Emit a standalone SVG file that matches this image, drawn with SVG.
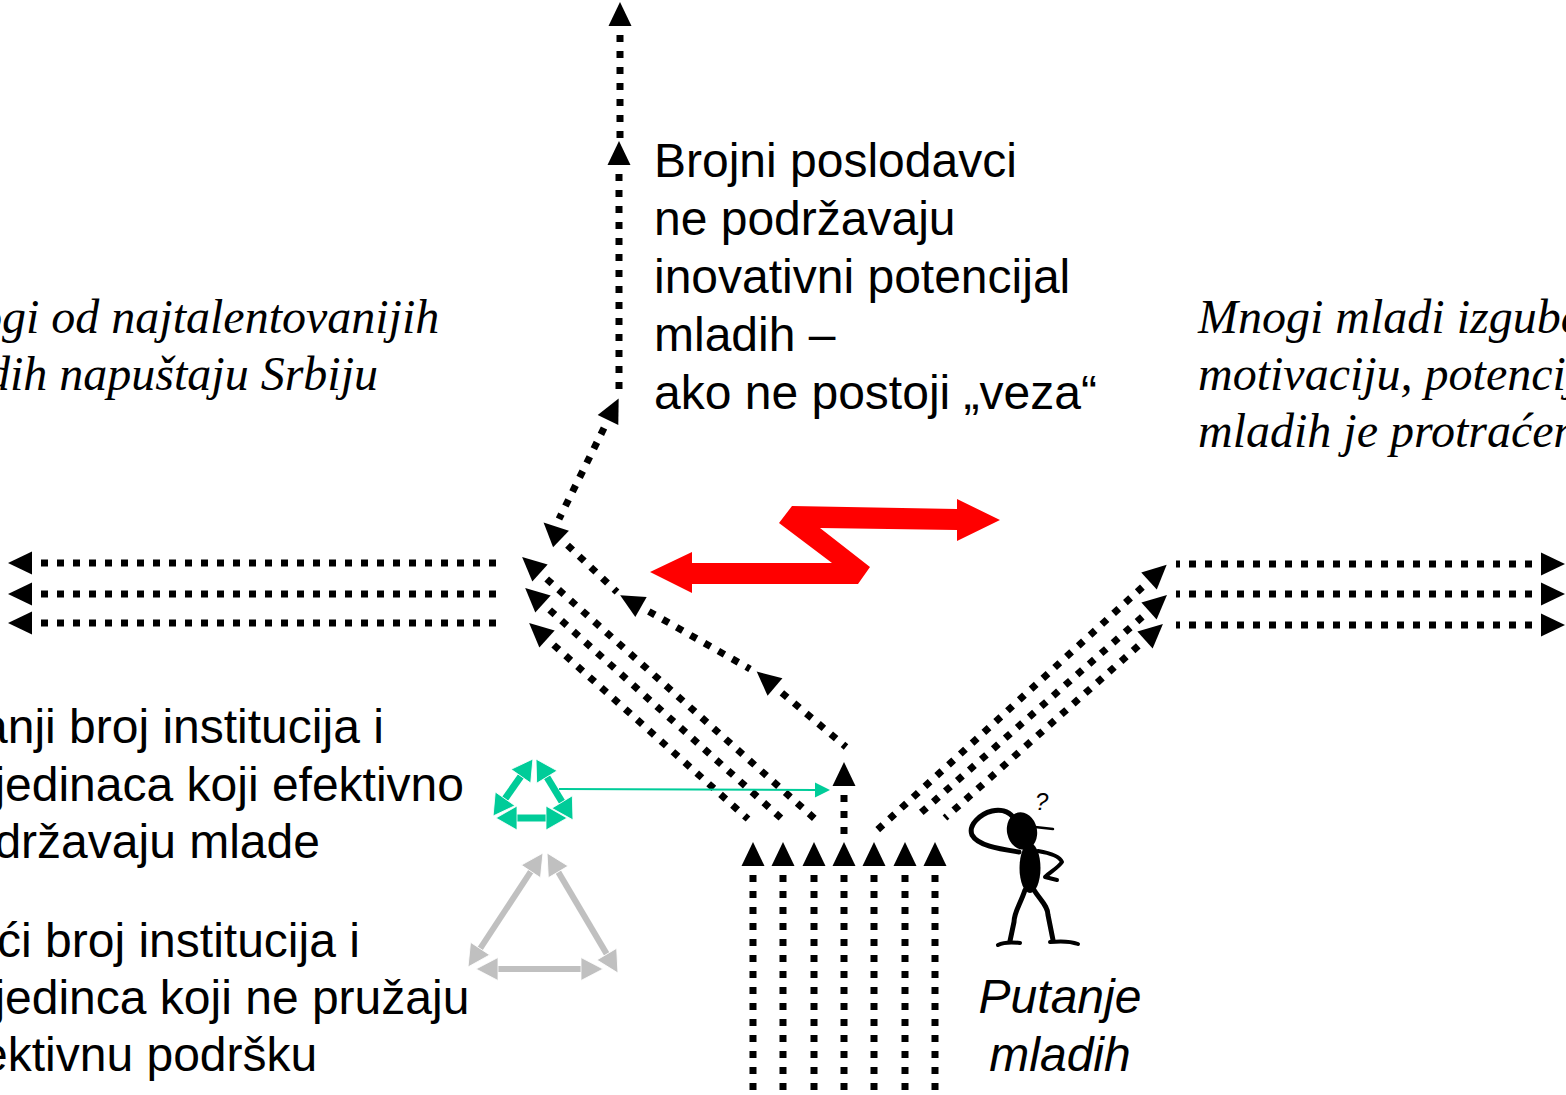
<svg xmlns="http://www.w3.org/2000/svg" width="1566" height="1095" viewBox="0 0 1566 1095">
<style>
.sans{font-family:"Liberation Sans",Arial,sans-serif;font-size:48px;fill:#000}
.sansI{font-family:"Liberation Sans",Arial,sans-serif;font-size:48px;font-style:italic;fill:#000}
.serifI{font-family:"Liberation Serif","Times New Roman",serif;font-size:48px;font-style:italic;fill:#000}
.dot{fill:none;stroke:#000;stroke-width:7;stroke-dasharray:7 9;stroke-dashoffset:7;marker-start:url(#ah)}
.green{fill:none;stroke:#00CC99;stroke-width:7;marker-start:url(#gh);marker-end:url(#gh)}
.gray{fill:none;stroke:#C0C0C0;stroke-width:6;marker-start:url(#yh);marker-end:url(#yh)}
.thin{fill:none;stroke:#00CC99;stroke-width:2;marker-end:url(#th)}
</style>
<defs>
<marker id="ah" markerUnits="userSpaceOnUse" viewBox="0 -12 24 24" markerWidth="24" markerHeight="24" refX="0" refY="0" orient="auto-start-reverse" overflow="visible"><path d="M0,-11.5 L24,0 L0,11.5 z" fill="#000"/></marker>
<marker id="gh" markerUnits="userSpaceOnUse" viewBox="0 -13 22 26" markerWidth="22" markerHeight="26" refX="0" refY="0" orient="auto-start-reverse" overflow="visible"><path d="M0,-12 L21,0 L0,12 z" fill="#00CC99" stroke="#fff" stroke-width="0.8"/></marker>
<marker id="yh" markerUnits="userSpaceOnUse" viewBox="0 -13 23 26" markerWidth="23" markerHeight="26" refX="0" refY="0" orient="auto-start-reverse" overflow="visible"><path d="M0,-11.5 L22,0 L0,11.5 z" fill="#C0C0C0" stroke="#fff" stroke-width="0.8"/></marker>
<marker id="th" markerUnits="userSpaceOnUse" viewBox="0 -8 16 16" markerWidth="16" markerHeight="16" refX="0" refY="0" orient="auto" overflow="visible"><path d="M0,-7.5 L15,0 L0,7.5 z" fill="#00CC99"/></marker>
</defs>
<rect width="1566" height="1095" fill="#fff"/>

<g id="connectors">
<path class="dot" d="M753,866 V1100"/>
<path class="dot" d="M783,866 V1100"/>
<path class="dot" d="M814,866 V1100"/>
<path class="dot" d="M844,866 V1100"/>
<path class="dot" d="M874,866 V1100"/>
<path class="dot" d="M905,866 V1100"/>
<path class="dot" d="M935,866 V1100"/>
<path class="dot" d="M844,786 V840"/>
<path class="dot" d="M775,687 L846,747"/>
<path class="dot" d="M641,607 L750,669"/>
<path class="dot" d="M561,539 L617,592"/>
<path class="dot" d="M608,420 L559,519"/>
<path class="dot" d="M619,165 V394"/>
<path class="dot" d="M620,26 V138"/>
<path class="dot" d="M540,573 L815,819"/>
<path class="dot" d="M543,604 L782,819"/>
<path class="dot" d="M547,639 L748,819"/>
<path class="dot" d="M32,563 H500"/>
<path class="dot" d="M32,594 H500"/>
<path class="dot" d="M32,623 H500"/>
<path class="dot" d="M1149,581 L873,834"/>
<path class="dot" d="M1149,611 L915,818"/>
<path class="dot" d="M1145,640 L945,818"/>
<path class="dot" d="M1541,564 H1176"/>
<path class="dot" d="M1541,594 H1176"/>
<path class="dot" d="M1541,625 H1176"/>
<path class="thin" d="M559,789 L815,790"/>
</g>

<g id="conflict">
<polygon fill="#FF0000" points="650,572 692,552 692,563 832,563 779,523 792,506 957,509 957,499 1000,520 957,541 957,530 820,528 870,567 858,584 692,584 692,593"/>
</g>

<g id="supportive">
<path class="green" d="M520.9,776.2 L505.1,798.8"/>
<path class="green" d="M546.9,777 L562.1,802"/>
<path class="green" d="M517,818 L546,818"/>
</g>

<g id="unsupportive">
<path class="gray" d="M530.9,871.4 L480.1,948.6"/>
<path class="gray" d="M558.2,871.9 L606.8,954.1"/>
<path class="gray" d="M498,969 L581,969"/>
</g>

<g id="figure" fill="#000" stroke="#000" stroke-linecap="round" stroke-linejoin="round">
<ellipse cx="1022" cy="831" rx="15" ry="19" transform="rotate(-12 1022 831)" stroke="none"/>
<ellipse cx="1030" cy="868" rx="10.5" ry="25" stroke="none"/>
<path d="M1035,827 L1053,829" fill="none" stroke-width="2.5"/>
<path d="M1019,852 C1000,849 978,846 972,835 C968,825 980,814 992,811 C1000,809 1008,811 1013,817" fill="none" stroke-width="5"/>
<path d="M1038,851 C1050,853 1060,857 1062,862 C1058,868 1050,872 1045,877 L1057,880" fill="none" stroke-width="4"/>
<path d="M1025,890 C1020,905 1014,912 1014,922 L1010,941" fill="none" stroke-width="5"/>
<path d="M998,945 C1004,942 1012,942 1020,943" fill="none" stroke-width="4"/>
<path d="M1034,890 C1040,900 1048,906 1048,915 L1053,940" fill="none" stroke-width="5"/>
<path d="M1050,942 C1060,941 1070,941 1078,944" fill="none" stroke-width="4"/>
<text x="1035" y="810" stroke="none" style="font-family:'Liberation Sans',Arial,sans-serif;font-size:24px;font-style:italic">?</text>
</g>

<g id="label-employers">
<text class="sans" x="654" y="177">Brojni poslodavci</text>
<text class="sans" x="654" y="235">ne podržavaju</text>
<text class="sans" x="654" y="293">inovativni potencijal</text>
<text class="sans" x="654" y="351">mladih –</text>
<text class="sans" x="654" y="409">ako ne postoji „veza“</text>
</g>

<g id="label-leave">
<text class="serifI" x="-86" y="333">Mnogi od najtalentovanijih</text>
<text class="serifI" x="-86" y="390">mladih napuštaju Srbiju</text>
</g>

<g id="label-lose">
<text class="serifI" x="1198" y="333">Mnogi mladi izgube</text>
<text class="serifI" x="1198" y="390">motivaciju, potencijal</text>
<text class="serifI" x="1198" y="447">mladih je protraćen</text>
</g>

<g id="label-support">
<text class="sans" x="-59" y="743">Manji broj institucija i</text>
<text class="sans" x="-59" y="801">pojedinaca koji efektivno</text>
<text class="sans" x="-59" y="858">podržavaju mlade</text>
</g>

<g id="label-nosupport">
<text class="sans" x="-59" y="957">Veći broj institucija i</text>
<text class="sans" x="-59" y="1014">pojedinca koji ne pružaju</text>
<text class="sans" x="-59" y="1071">efektivnu podršku</text>
</g>

<g id="label-paths">
<text class="sansI" x="1060" y="1013" text-anchor="middle">Putanje</text>
<text class="sansI" x="1060" y="1071" text-anchor="middle">mladih</text>
</g>
</svg>
